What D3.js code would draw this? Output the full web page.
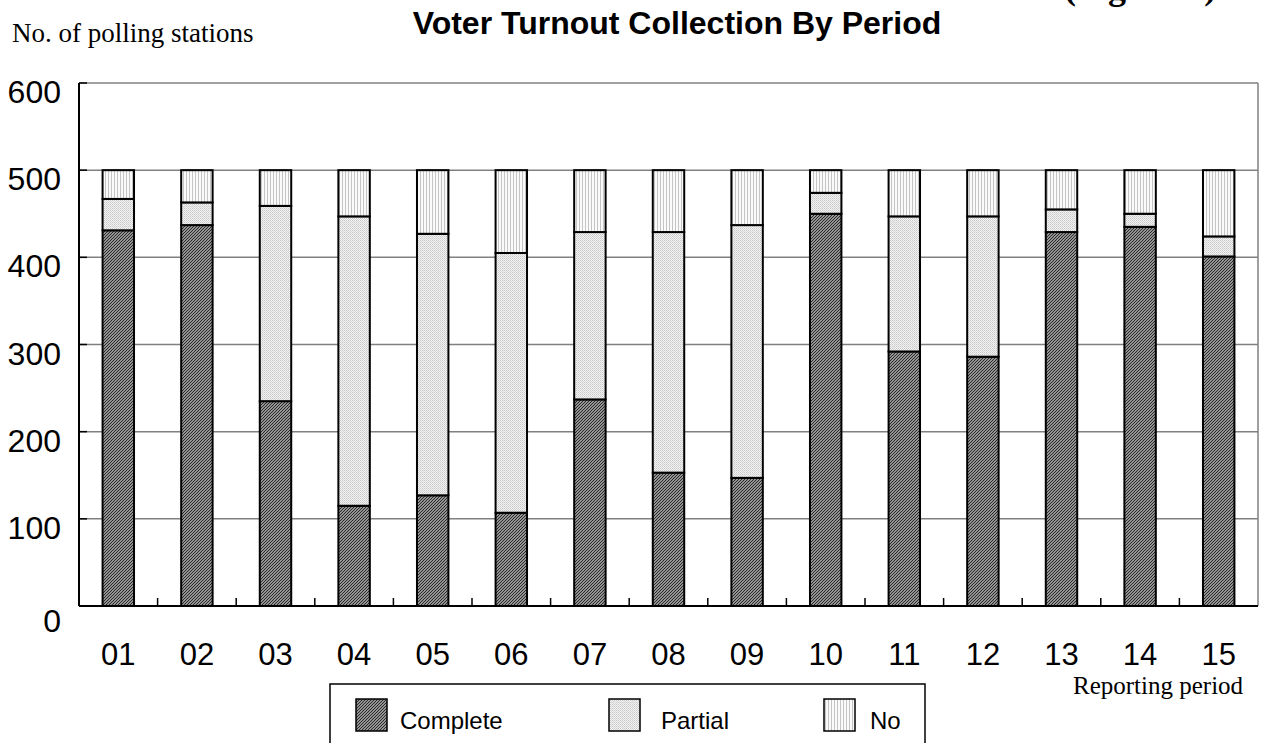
<!DOCTYPE html>
<html><head><meta charset="utf-8">
<script src="https://cdn.jsdelivr.net/npm/d3@7"></script>
<style>body{margin:0;background:#fff;}svg{display:block;}</style>
</head><body>
<svg id="c" width="1265" height="743"></svg>
<script>
const periods = ["01","02","03","04","05","06","07","08","09","10","11","12","13","14","15"];
const complete = [431, 437, 235, 115, 127, 107, 237, 153, 147, 450, 292, 286, 429, 435, 401];
const partial  = [ 36,  26, 224, 332, 300, 298, 192, 276, 290,  24, 155, 161,  26,  15,  23];
const noData   = [ 33,  37,  41,  53,  73,  95,  71,  71,  63,  26,  53,  53,  45,  50,  76];
const yTicks = [0, 100, 200, 300, 400, 500, 600];
const seriesNames = ["Complete", "Partial", "No"];

const svg = d3.select("#c");
const defs = svg.append("defs");
const pc = defs.append("pattern").attr("id","pComplete").attr("patternUnits","userSpaceOnUse").attr("width",3).attr("height",3);
pc.append("rect").attr("width",3).attr("height",3).attr("fill","#e8e8e8");
pc.append("path").attr("d","M0,3 L3,0 M-1,1 L1,-1 M2,4 L4,2").attr("stroke","#2a2a2a").attr("stroke-width",1.3);
const pp = defs.append("pattern").attr("id","pPartial").attr("patternUnits","userSpaceOnUse").attr("width",2).attr("height",2);
pp.append("rect").attr("width",2).attr("height",2).attr("fill","#f2f2f2");
pp.append("rect").attr("width",1).attr("height",1).attr("fill","#c8c8c8");
pp.append("rect").attr("x",1).attr("y",1).attr("width",1).attr("height",1).attr("fill","#d8d8d8");
const pn = defs.append("pattern").attr("id","pNo").attr("patternUnits","userSpaceOnUse").attr("width",3).attr("height",3);
pn.append("rect").attr("width",3).attr("height",3).attr("fill","#fafafa");
pn.append("rect").attr("width",1).attr("height",3).attr("fill","#c4c4c4");
const fills = ["url(#pComplete)","url(#pPartial)","url(#pNo)"];

const L = 79, R = 1258, T = 83, B = 606;
const x = d3.scaleBand().domain(periods).range([L, R]).paddingInner(0.6).paddingOuter(0.3);
const y = d3.scaleLinear().domain([0, 600]).range([B, T]);
const sans = "Liberation Sans, Arial, sans-serif";
const serif = "Liberation Serif, Times New Roman, serif";

// grid
svg.append("g").selectAll("line").data(yTicks.filter(d => d > 0)).join("line")
  .attr("x1", L).attr("x2", R).attr("y1", d => y(d)).attr("y2", d => y(d))
  .attr("stroke", "#808080").attr("stroke-width", 1.5);
svg.append("line").attr("x1", R).attr("x2", R).attr("y1", T).attr("y2", B).attr("stroke","#808080").attr("stroke-width",1.5);

// bars
const stackData = periods.map((p,i)=>({p, Complete:complete[i], Partial:partial[i], No:noData[i]}));
const stack = d3.stack().keys(seriesNames)(stackData);
stack.forEach((s, si) => {
  svg.append("g").selectAll("rect").data(s).join("rect")
    .attr("x", d => x(d.data.p)).attr("width", x.bandwidth())
    .attr("y", d => y(d[1])).attr("height", d => y(d[0]) - y(d[1]))
    .attr("fill", fills[si]).attr("stroke", "#000").attr("stroke-width", 2);
});

// axes
svg.append("line").attr("x1", L).attr("x2", L).attr("y1", T).attr("y2", B).attr("stroke","#000").attr("stroke-width",2);
svg.append("line").attr("x1", L).attr("x2", R).attr("y1", B).attr("y2", B).attr("stroke","#000").attr("stroke-width",2);
svg.append("g").selectAll("line").data(yTicks).join("line")
  .attr("x1", L).attr("x2", L + 8).attr("y1", d=>y(d)).attr("y2", d=>y(d))
  .attr("stroke","#000").attr("stroke-width",1.5);
svg.append("g").selectAll("text").data(yTicks).join("text")
  .attr("x", 61).attr("y", d => d === 0 ? y(d) + 26 : y(d) + 20).attr("text-anchor","end")
  .attr("font-family", sans).attr("font-size", 32)
  .text(d => d);

// x ticks at band boundaries (inside, upward)
const bounds = d3.range(1, periods.length).map(i => x(periods[i]) - x.step() * x.paddingInner() / 2);
svg.append("g").selectAll("line").data(bounds).join("line")
  .attr("x1", d=>d).attr("x2", d=>d).attr("y1", B).attr("y2", B - 8)
  .attr("stroke","#000").attr("stroke-width",1.5);
svg.append("g").selectAll("text").data(periods).join("text")
  .attr("x", d => x(d) + x.bandwidth()/2).attr("y", 665).attr("text-anchor","middle")
  .attr("font-family", sans).attr("font-size", 31)
  .text(d => d);

// titles
svg.append("text").attr("x", 677).attr("y", 34).attr("text-anchor","middle")
  .attr("font-family", sans).attr("font-weight","bold").attr("font-size", 32)
  .text("Voter Turnout Collection By Period");
svg.append("text").attr("x", 12).attr("y", 42)
  .attr("font-family", serif).attr("font-size", 27)
  .text("No. of polling stations");
svg.append("text").attr("x", 1073).attr("y", 694)
  .attr("font-family", serif).attr("font-size", 25)
  .text("Reporting period");
svg.append("text").attr("x", 1064).attr("y", -1)
  .attr("font-family", serif).attr("font-weight","bold").attr("font-size", 36)
  .text("(Figure 1)");

// legend
const lg = svg.append("g");
lg.append("rect").attr("x", 330).attr("y", 684).attr("width", 595).attr("height", 70)
  .attr("fill","#fff").attr("stroke","#000").attr("stroke-width",1.5);
const legX = [356, 609, 824];
const legT = [400, 661, 870];
seriesNames.forEach((n, i) => {
  lg.append("rect").attr("x", legX[i]).attr("y", 699).attr("width", 31).attr("height", 32)
    .attr("fill", fills[i]).attr("stroke","#000").attr("stroke-width",1.5);
  lg.append("text").attr("x", legT[i]).attr("y", 729)
    .attr("font-family", sans).attr("font-size", 24)
    .text(n);
});
</script>
</body></html>
